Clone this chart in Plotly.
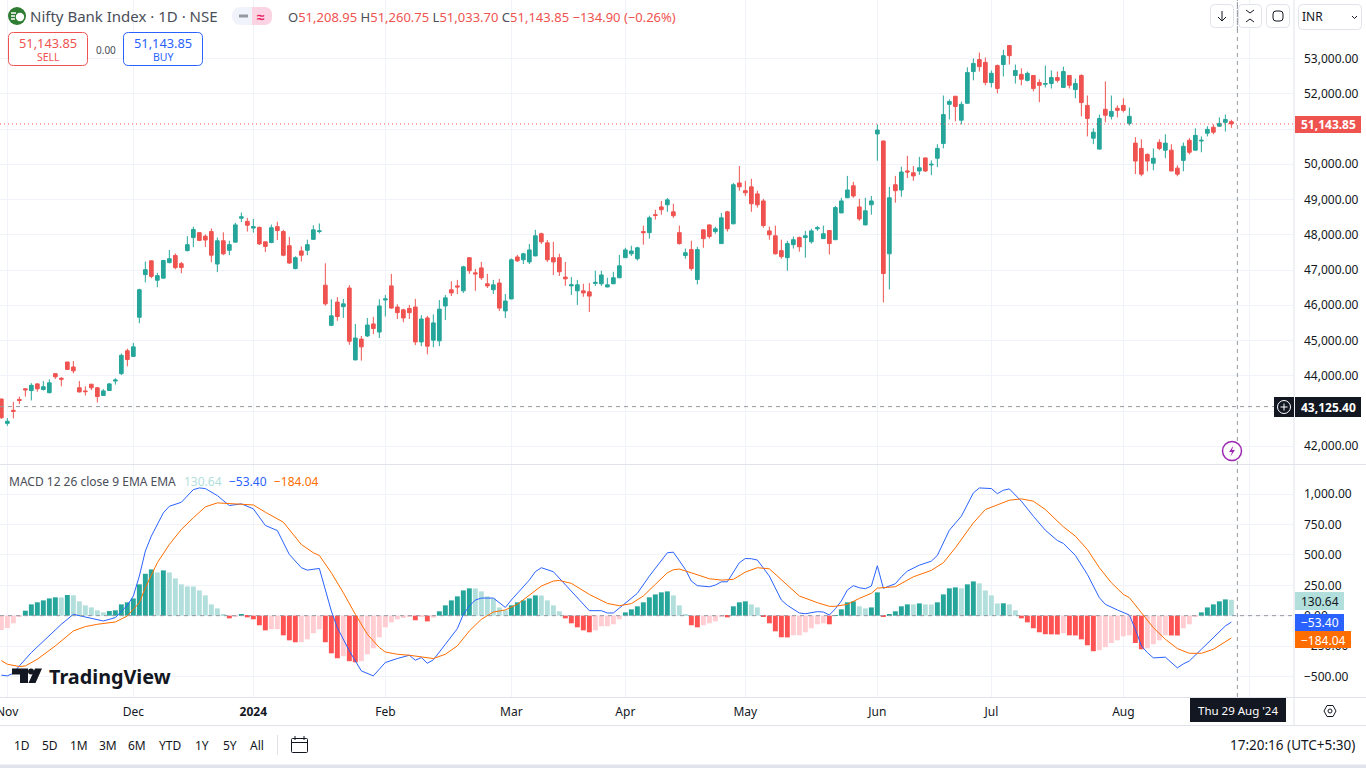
import plotly.graph_objects as go

W, H = 1366, 768
opens = [43340,42650,43020,43330,43630,43580,43770,43610,43520,44060,
43930,44390,44250,43660,43570,43760,43660,43440,43580,43850,
44060,44710,44550,45660,46870,47260,46710,46770,47210,47410,
47180,47550,47920,48060,47960,48090,47170,47830,47560,47790,
48470,48380,48190,48210,47800,47780,48230,48090,47690,47040,
47540,47560,47870,48090,46570,45430,46090,45960,46490,44450,
45040,45130,45470,45240,46150,46550,45950,45870,45910,45950,
44960,45640,45010,44990,45980,46440,46550,46410,47350,46920,
47060,46610,46440,46630,45840,46180,47370,47290,47230,47400,
48030,47770,47350,47350,46800,46550,46410,46410,46380,46620,
46610,46520,46610,46780,47350,47460,47320,48090,48060,48570,
48790,48850,48650,48060,47410,47580,46730,48140,48280,48090,
47750,48650,48310,49470,49250,49360,49160,48960,48110,47970,
47550,47350,47720,47920,47920,47800,48170,47890,48120,47860,
48620,49050,49390,48790,48280,48850,50860,50660,47460,49420,
49270,49810,49760,49810,50180,49980,50170,50590,51700,51930,
51250,51730,52630,52970,52890,52320,52800,52830,53370,52520,
52550,52380,52520,52320,52270,52290,52460,52180,52520,52120,
52520,51670,50740,50430,51560,51360,51590,51670,51160,50600,
50450,50280,50030,50620,50400,50400,49890,50110,50680,50400,
50660,50880,51050,51080,51190,51208.95]
highs = [43350,42800,43260,43410,43640,43790,43790,43850,43900,44060,
43960,44390,44420,43850,43700,43770,43680,43620,43790,43930,
44630,44770,44930,46470,47240,47270,46920,47290,47570,47470,
47230,47960,48230,48070,48010,48180,47920,48070,47830,48340,
48630,48480,48450,48230,47810,48290,48370,48140,47940,47390,
47670,47860,48270,48320,47190,46170,46230,46180,46570,45470,
45130,45640,45670,46170,46290,46890,46030,45900,46010,46180,
45720,45700,45740,46150,46290,46680,46720,47120,47350,47030,
47230,46890,46720,46750,46320,47330,47430,47490,47740,48140,
48060,47850,47800,47460,47230,46800,46720,46610,46630,46980,
46980,46780,46950,47430,47630,47690,47660,48260,48540,48710,
48960,49040,48880,48260,47610,47830,47660,48150,48290,48230,
48620,48680,49470,49950,49530,49590,49250,49020,48230,48260,
47860,47830,47950,47950,48110,48170,48250,48260,48120,48820,
49050,49670,49500,49020,49050,49100,51130,50670,49360,49670,
49930,50240,49950,50210,50190,50110,50570,51950,51840,51930,
51780,52750,53000,53170,53030,52660,52830,53250,53370,52830,
52720,52630,52530,52410,52800,52660,52630,52770,52530,52430,
52550,51950,51020,51410,52350,51950,51670,51870,51610,50770,
50710,50310,50450,50710,50850,50570,49970,50620,50740,51020,
50790,51080,51130,51330,51410,51260.75]
lows = [42780,42580,42790,43200,43410,43300,43550,43580,43500,43910,
43700,44170,44070,43530,43440,43590,43240,43430,43570,43750,
44020,44270,44540,45490,46650,46770,46510,46760,47190,47020,
46910,47530,47650,47820,47650,47220,46940,47420,47420,47780,
48360,48090,48060,47710,47510,47760,47850,47390,47170,47020,
47240,47420,47860,48040,45990,45410,45560,45640,44880,44440,
44430,45100,45180,45070,45680,45900,45610,45520,45610,44870,
44840,44610,44810,44840,45580,46260,46320,46350,46890,46410,
46720,46490,46320,45840,45640,46170,47230,47170,47170,47390,
47740,47230,46860,46830,46550,46290,46010,46240,45810,46550,
46550,46510,46600,46770,47340,47400,47270,47720,47890,48430,
48570,48650,48480,47720,47320,46980,46590,47630,47890,48030,
47740,48090,48300,49250,49100,48650,48770,48200,47860,47440,
47320,46980,47610,47520,47350,47750,48110,47880,47440,47850,
48610,49040,49050,48400,48270,48570,50100,46080,46450,48910,
49080,49610,49530,49700,49780,49690,49920,50450,51270,51220,
51130,51720,52380,52630,52240,52180,52010,52490,52830,52290,
52240,52350,52070,51760,52180,52150,52320,52170,52150,51870,
51360,50790,50570,50420,51190,51270,51330,51470,51100,49720,
49660,49800,49830,50400,50170,49800,49660,49800,50280,50390,
50340,50790,50850,51070,50930,51033.70]
closes = [42810,42710,42990,43300,43600,43730,43630,43690,43800,43970,
43900,44180,44140,43540,43550,43660,43410,43570,43770,43880,
44580,44460,44820,46440,47010,46820,46840,47270,47320,47070,
47070,47720,48150,47840,47850,47420,47830,47460,47720,48280,
48510,48270,48230,47740,47670,48200,48120,47420,47200,47350,
47420,47720,48140,48110,46040,45700,45680,46040,44980,45070,
44820,45440,45340,45980,46180,45920,45790,45640,45790,44960,
45610,44840,45500,45890,46210,46350,46520,47090,46980,46890,
46780,46550,46580,45920,46120,47290,47260,47460,47570,47970,
47800,47290,47230,46950,46750,46580,46580,46350,46260,46650,
46860,46580,46780,47120,47570,47540,47630,48060,48480,48550,
48710,48990,48540,47750,47490,47040,47580,47890,47950,48170,
48480,48170,49420,49360,49190,48880,48850,48260,48000,47460,
47380,47750,47860,47660,47970,48110,48200,48030,47750,48770,
48960,49270,49100,48450,48680,48960,50970,46900,49050,49250,
49780,49780,49670,49900,49810,50000,50450,51410,51780,51640,
51700,52600,52860,52770,52320,52580,52150,53080,53080,52660,
52410,52580,52150,52240,52290,52460,52380,52630,52240,52290,
51750,51300,50910,51300,51390,51500,51530,51530,51360,50090,
49720,50090,50170,50450,50600,49810,49720,50510,50340,50820,
50680,50990,50910,51160,51270,51143.85]

histogram = [-118,-101,-63,-8,41,93,110,126,142,151,
150,170,168,118,85,68,44,27,38,44,
93,110,142,258,345,381,356,373,356,307,
258,241,240,208,167,93,60,8,-22,-8,
10,-14,-30,-79,-121,-112,-111,-162,-203,-219,
-218,-195,-145,-112,-219,-310,-351,-334,-375,-384,
-375,-318,-269,-178,-96,-55,-30,-19,-5,-38,
-8,-47,-16,36,85,126,159,208,225,224,
200,159,142,68,44,85,110,126,142,167,
166,126,85,36,-22,-63,-96,-121,-137,-121,
-88,-87,-71,-30,27,52,77,110,151,175,
192,200,167,85,8,-79,-96,-79,-63,-47,
-8,-14,77,110,118,93,68,-5,-63,-129,
-178,-179,-162,-161,-137,-104,-71,-63,-71,2,
52,110,118,77,60,68,192,-11,11,36,
77,93,93,101,93,92,110,175,225,233,
225,258,282,266,208,167,101,102,93,44,
-22,-55,-104,-137,-153,-154,-155,-145,-162,-163,
-195,-244,-293,-285,-260,-225,-203,-170,-162,-225,
-277,-269,-236,-203,-162,-163,-164,-104,-71,-8,
27,68,93,118,134,130.64]

macd_sessions = [0,1,2,3,5,7,9,10,12,14,15,17,19,21,22,23,24,25,27,28,30,32,33,34,36,38,40,42,44,46,48,50,51,53,55,56,58,60,62,64,66,68,69,70,
71,72,74,76,77,78,79,80,82,84,85,87,88,89,90,92,94,96,98,100,101,102,104,106,108,110,111,112,114,115,116,118,119,120,121,123,124,125,126,128,130,131,133,134,136,137,138,139,140,
141,142,143,144,145,146,147,149,150,151,153,155,156,158,160,162,163,165,166,167,168,170,172,174,176,177,179,181,183,184,186,188,189,190,191,192,194,196,197,198,200,202,203,204,205]
macd_values = [-490,-496,-474,-414,-304,-208,-112,-71,11,-11,-22,-44,-16,85,162,326,532,655,847,901,934,1038,1052,1047,989,907,921,880,743,701,504,395,375,389,38,-99,-290,-455,-496,-386,-353,-326,-367,-345,
-392,-364,-236,-107,11,79,129,145,145,68,129,238,293,362,395,362,258,148,41,41,22,22,107,184,326,449,518,523,381,285,247,238,252,279,279,436,471,469,458,326,129,85,22,16,33,30,5,57,121,
211,247,230,222,244,411,225,263,320,367,416,449,496,704,819,1011,1052,1047,1005,1033,1044,943,819,704,619,595,496,340,148,93,47,5,-112,-249,-304,-348,-342,-430,-397,-373,-277,-181,-140,-85,-53.40]
signal_sessions = [0,1,3,4,6,9,12,14,16,19,21,23,24,26,28,30,32,34,36,38,40,42,44,47,50,52,53,55,57,59,61,63,64,66,68,70,
72,74,76,78,80,82,84,86,88,90,92,93,95,98,101,103,105,107,109,111,112,113,115,118,120,122,124,126,128,130,133,136,138,139,
141,143,145,146,149,152,155,157,159,161,162,164,166,168,170,172,174,177,179,181,183,185,187,188,190,192,194,196,198,200,202,204,205]
signal_values = [-370,-400,-419,-414,-359,-249,-126,-90,-71,-52,-3,107,230,436,586,710,806,896,929,923,923,912,852,770,586,518,496,353,189,11,-153,-263,-299,-318,-326,-337,
-353,-318,-249,-126,-30,30,47,93,167,244,285,290,266,175,101,82,99,162,258,353,378,384,353,304,293,299,359,395,386,299,162,107,77,77,
93,142,184,227,238,320,373,436,559,696,764,874,910,951,962,943,874,732,655,545,395,271,175,148,25,-99,-195,-271,-310,-310,-277,-216,-184.04]

price_ticks = [53000,52000,51000,50000,49000,48000,47000,46000,45000,44000,43000,42000]
covered_price_ticks = [51000,43000]
macd_ticks = [1000,750,500,250,0,-250,-500]
month_sessions = [1,22,42,64,85,104,124,146,165,187,208]
month_labels = ["","Dec","<b>2024</b>","Feb","Mar","Apr","May","Jun","Jul","Aug",""]
last_close = 51143.85
cross_price = 43125.40
cross_session = 206

assert all(len(a) == 206 for a in (opens, highs, lows, closes, histogram))
assert len(macd_sessions) == len(macd_values) and len(signal_sessions) == len(signal_values)

sessions = list(range(len(closes)))
UP, DOWN = "#26a69a", "#ef5350"
GRID, BORDER, TEXT = "#f0f3fa", "#e0e3eb", "#131722"
FONT = "Noto Sans, sans-serif"

def hist_colour(i):
    prev = histogram[i-1] if i else histogram[i] - 1
    if histogram[i] >= 0:
        return "#26a69a" if histogram[i] > prev else "#b2dfdb"
    return "#ffcdd2" if histogram[i] > prev else "#ff5252"

PANE_R = 1294
def px(x): return x / W
def py(y): return 1 - y / H

fig = go.Figure()
fig.add_trace(go.Candlestick(x=sessions, open=opens, high=highs, low=lows, close=closes,
    increasing=dict(line=dict(color=UP, width=1), fillcolor=UP),
    decreasing=dict(line=dict(color=DOWN, width=1), fillcolor=DOWN),
    whiskerwidth=0, xaxis="x", yaxis="y", showlegend=False))
fig.add_trace(go.Bar(x=sessions, y=histogram, width=0.82, marker=dict(color=[hist_colour(i) for i in sessions], line_width=0),
    xaxis="x2", yaxis="y2", showlegend=False))
fig.add_trace(go.Scatter(x=macd_sessions, y=macd_values, mode="lines", line=dict(color="#2962ff", width=1),
    xaxis="x2", yaxis="y2", showlegend=False))
fig.add_trace(go.Scatter(x=signal_sessions, y=signal_values, mode="lines", line=dict(color="#ff6d00", width=1),
    xaxis="x2", yaxis="y2", showlegend=False))

shapes, notes = [], []

def rect(x0, y0, x1, y1, fill=None, line=None, r=0, lw=1):
    if r:
        p = (f"M{px(x0+r)},{py(y0)} L{px(x1-r)},{py(y0)} Q{px(x1)},{py(y0)} {px(x1)},{py(y0+r)} "
             f"L{px(x1)},{py(y1-r)} Q{px(x1)},{py(y1)} {px(x1-r)},{py(y1)} L{px(x0+r)},{py(y1)} "
             f"Q{px(x0)},{py(y1)} {px(x0)},{py(y1-r)} L{px(x0)},{py(y0+r)} Q{px(x0)},{py(y0)} {px(x0+r)},{py(y0)} Z")
        shapes.append(dict(type="path", path=p, xref="paper", yref="paper", fillcolor=fill or "rgba(0,0,0,0)",
                           line=dict(color=line or "rgba(0,0,0,0)", width=lw)))
    else:
        shapes.append(dict(type="rect", x0=px(x0), x1=px(x1), y0=py(y0), y1=py(y1), xref="paper", yref="paper",
                           fillcolor=fill or "rgba(0,0,0,0)", line=dict(color=line or "rgba(0,0,0,0)", width=lw if line else 0)))

def seg(x0, y0, x1, y1, color=BORDER, w=1, dash=None):
    shapes.append(dict(type="line", x0=px(x0), x1=px(x1), y0=py(y0), y1=py(y1), xref="paper", yref="paper",
                       line=dict(color=color, width=w, dash=dash or "solid")))

def poly(points, fill=None, line=None, lw=1, close=True):
    p = "M" + " L".join(f"{px(a)},{py(b)}" for a, b in points) + (" Z" if close else "")
    shapes.append(dict(type="path", path=p, xref="paper", yref="paper", fillcolor=fill or "rgba(0,0,0,0)",
                       line=dict(color=line or "rgba(0,0,0,0)", width=lw)))

def circle(cx, cy, r, fill=None, line=None, lw=1):
    shapes.append(dict(type="circle", x0=px(cx-r), x1=px(cx+r), y0=py(cy+r), y1=py(cy-r), xref="paper", yref="paper",
                       fillcolor=fill or "rgba(0,0,0,0)", line=dict(color=line or "rgba(0,0,0,0)", width=lw if line else 0)))

def note(text, x, y, size=12, color=TEXT, anchor="left", family=FONT):
    notes.append(dict(text=text, x=px(x), y=py(y), xref="paper", yref="paper", xanchor=anchor, yanchor="middle",
                      showarrow=False, font=dict(size=size, color=color, family=family), borderpad=0, borderwidth=0))

# pane frames
seg(0, 464.5, W, 464.5)
seg(0, 697.5, W, 697.5)
seg(0, 725.5, W, 725.5)
seg(PANE_R, 0, PANE_R, 725)
rect(0, 764.5, W, 768, fill="#e0e3eb")

# price line, zero line, crosshair (data referenced)
CROSS = "#9598a1"
shapes.append(dict(type="line", xref="paper", yref="y", x0=0, x1=px(PANE_R), y0=last_close, y1=last_close,
                   line=dict(color=DOWN, width=1, dash="1px,3px")))
shapes.append(dict(type="line", xref="paper", yref="y2", x0=0, x1=px(PANE_R), y0=0, y1=0,
                   line=dict(color=CROSS, width=1, dash="4px,4px")))
shapes.append(dict(type="line", xref="paper", yref="y", x0=0, x1=px(PANE_R), y0=cross_price, y1=cross_price,
                   line=dict(color=CROSS, width=1, dash="4px,4px")))
shapes.append(dict(type="line", xref="x", yref="paper", x0=cross_session, x1=cross_session, y0=py(697), y1=1,
                   line=dict(color=CROSS, width=1, dash="4px,4px")))

# header
circle(17, 16, 9, fill="#2e7d32")
circle(20, 17, 4.2, fill="#ffffff")
seg(11, 13, 16, 13, "#ffffff", 1.5); seg(11, 16, 15, 16, "#ffffff", 1.5); seg(11, 19, 15, 19, "#ffffff", 1.5)
note("Nifty Bank Index · 1D · NSE", 30, 16, 15, "#4a4e59")
rect(232, 7, 272, 25, fill="#f0f3fa", r=9)
rect(252, 7, 272, 25, fill="#fbd3e2", r=8)
rect(252, 7, 260, 25, fill="#fbd3e2")
seg(239, 16, 248, 16, "#9598a1", 3)
note("<b>≈</b>", 261, 16, 14, "#e91e63", "center")
R = "#ef5350"
note(f'<span style="color:#4a4e59">O</span>51,208.95 <span style="color:#4a4e59">H</span>51,260.75 '
     f'<span style="color:#4a4e59">L</span>51,033.70 <span style="color:#4a4e59">C</span>51,143.85 −134.90 (−0.26%)',
     288, 17, 13, R)
rect(8.5, 32.5, 87.5, 65.5, fill="#ffffff", line="#ef5350", r=5)
note("51,143.85", 48, 43, 12.8, "#ef5350", "center")
note("SELL", 48, 57, 10.5, "#ef5350", "center")
note("0.00", 105.5, 49.5, 10, "#4a4e59", "center")
rect(123.5, 32.5, 202.5, 65.5, fill="#ffffff", line="#2962ff", r=5)
note("51,143.85", 163, 43, 12.8, "#2962ff", "center")
note("BUY", 163, 57, 10.5, "#2962ff", "center")

# top right buttons
for a, b in ((1210.5, 1233.5), (1238.5, 1261.5), (1266.5, 1289.5)):
    rect(a, 4.5, b, 27.5, fill="#ffffff", line=BORDER, r=4)
shapes.append(dict(type="line", xref="x", yref="paper", x0=cross_session, x1=cross_session, y0=py(30), y1=1,
                   line=dict(color=CROSS, width=1, dash="4px,4px")))
seg(1222, 11, 1222, 21, TEXT); poly([(1218, 17), (1222, 21), (1226, 17)], line=TEXT, close=False)
poly([(1246, 10), (1250, 13), (1254, 10)], line=TEXT, close=False)
poly([(1246, 22), (1250, 19), (1254, 22)], line=TEXT, close=False)
rect(1273, 11, 1283, 21, line=TEXT, r=3)
rect(1298.5, 4.5, 1361.5, 29.5, fill="#ffffff", line=BORDER, r=4)
note("INR", 1302, 17, 12, TEXT)
poly([(1352, 16), (1354.5, 18.5), (1357, 16)], line=TEXT, close=False)

# price labels
rect(1295, 116, 1361, 133, fill="#ef5350")
note("<b>51,143.85</b>", 1328, 124.5, 12, "#ffffff", "center")
rect(1274, 397, 1294, 417, fill=TEXT)
circle(1284, 407, 6.5, line="#ffffff")
seg(1280.5, 407, 1287.5, 407, "#ffffff"); seg(1284, 403.5, 1284, 410.5, "#ffffff")
rect(1295, 397, 1361, 417, fill=TEXT)
note("<b>43,125.40</b>", 1328, 407, 12, "#ffffff", "center")
circle(1232, 451, 9.5, fill="#ffffff", line="#9c27b0", lw=1.5)
poly([(1233.5, 445.5), (1229, 452), (1232, 452), (1230.5, 456.5), (1235, 450), (1232, 450)], fill="#9c27b0")

# MACD legend + labels
note('MACD 12 26 close 9 EMA EMA', 9, 481.5, 12, "#4a4e59")
note('130.64', 184, 481.5, 12, "#b2dfdb")
note('−53.40', 229, 481.5, 12, "#2962ff")
note('−184.04', 274, 481.5, 12, "#ff6d00")
rect(1295, 592, 1344, 610, fill="#b2dfdb")
note("130.64", 1320, 601, 12, TEXT, "center")
rect(1295, 614, 1344, 631, fill="#2962ff")
note("−53.40", 1320, 622.5, 12, "#ffffff", "center")
rect(1295, 631, 1351, 648, fill="#ff6d00")
note("−184.04", 1323, 640, 12, "#ffffff", "center")

# TradingView mark
poly([(12, 668.5), (28, 668.5), (28, 683), (20, 683), (20, 674.5), (12, 674.5)], fill=TEXT)
circle(31, 671.5, 3, fill=TEXT)
poly([(42, 668.5), (35.5, 683), (28.5, 683), (35, 668.5)], fill=TEXT)
note("<b>TradingView</b>", 49, 676, 19.8, TEXT)

# time axis extras
note("Nov", 7.3, 711, 12, TEXT, "center")
rect(1190, 698, 1286, 722, fill=TEXT)
note("Thu 29 Aug '24", 1238, 710.5, 11.5, "#ffffff", "center")
poly([(1324, 711), (1327, 705.5), (1333, 705.5), (1336, 711), (1333, 716.5), (1327, 716.5)], line=TEXT)
circle(1330, 711, 2, line=TEXT)

# bottom toolbar
for label, cx in (("1D", 22), ("5D", 50), ("1M", 79), ("3M", 108), ("6M", 137), ("YTD", 170), ("1Y", 202), ("5Y", 230), ("All", 257)):
    note(label, cx, 745, 12, TEXT, "center")
seg(277.5, 735, 277.5, 755)
rect(291.5, 738.5, 307.5, 752.5, line=TEXT, r=1)
seg(291.5, 742.5, 307.5, 742.5, TEXT)
seg(295, 736, 295, 740, TEXT); seg(304, 736, 304, 740, TEXT)
note("17:20:16 (UTC+5:30)", 1355, 745, 13.5, "#131722", "right")

axis_common = dict(range=[-0.222, 215.44], domain=[0, PANE_R / W], showgrid=True, gridcolor=GRID, gridwidth=1,
                   zeroline=False, showline=False, tickmode="array", tickvals=month_sessions, ticks="",
                   fixedrange=True)
fig.update_layout(
    width=W, height=H, margin=dict(l=0, r=0, t=0, b=0), autosize=False,
    paper_bgcolor="#ffffff", plot_bgcolor="#ffffff", font=dict(family=FONT, size=12, color=TEXT),
    showlegend=False, bargap=0.18, boxgap=0.12, dragmode=False,
    xaxis=dict(anchor="y", ticktext=[""] * len(month_labels), showticklabels=False, rangeslider=dict(visible=False), **axis_common),
    xaxis2=dict(anchor="y2", ticktext=month_labels, showticklabels=True, ticklabelstandoff=6,
                tickfont=dict(size=12, color=TEXT, family=FONT), **axis_common),
    yaxis=dict(anchor="x", side="right", domain=[py(464), 1], range=[41497, 54660], tickvals=price_ticks,
               ticktext=["" if v in covered_price_ticks else f"{v:,.2f}" for v in price_ticks], gridcolor=GRID, zeroline=False, showline=False, ticks="",
               ticklabelstandoff=9, tickfont=dict(size=12, color=TEXT, family=FONT), fixedrange=True),
    yaxis2=dict(anchor="x2", side="right", domain=[py(697), py(465)], range=[-670, 1241], tickvals=macd_ticks,
                ticktext=[f"{v:,.2f}".replace("-", "−") for v in macd_ticks], gridcolor=GRID, zeroline=False, showline=False, ticks="",
                ticklabelstandoff=9, tickfont=dict(size=12, color=TEXT, family=FONT), fixedrange=True),
    shapes=shapes, annotations=notes,
)
fig.write_html("out.html", config=dict(displayModeBar=False, responsive=False),
               post_script="document.body.style.margin='0';document.body.style.overflow='hidden';")
